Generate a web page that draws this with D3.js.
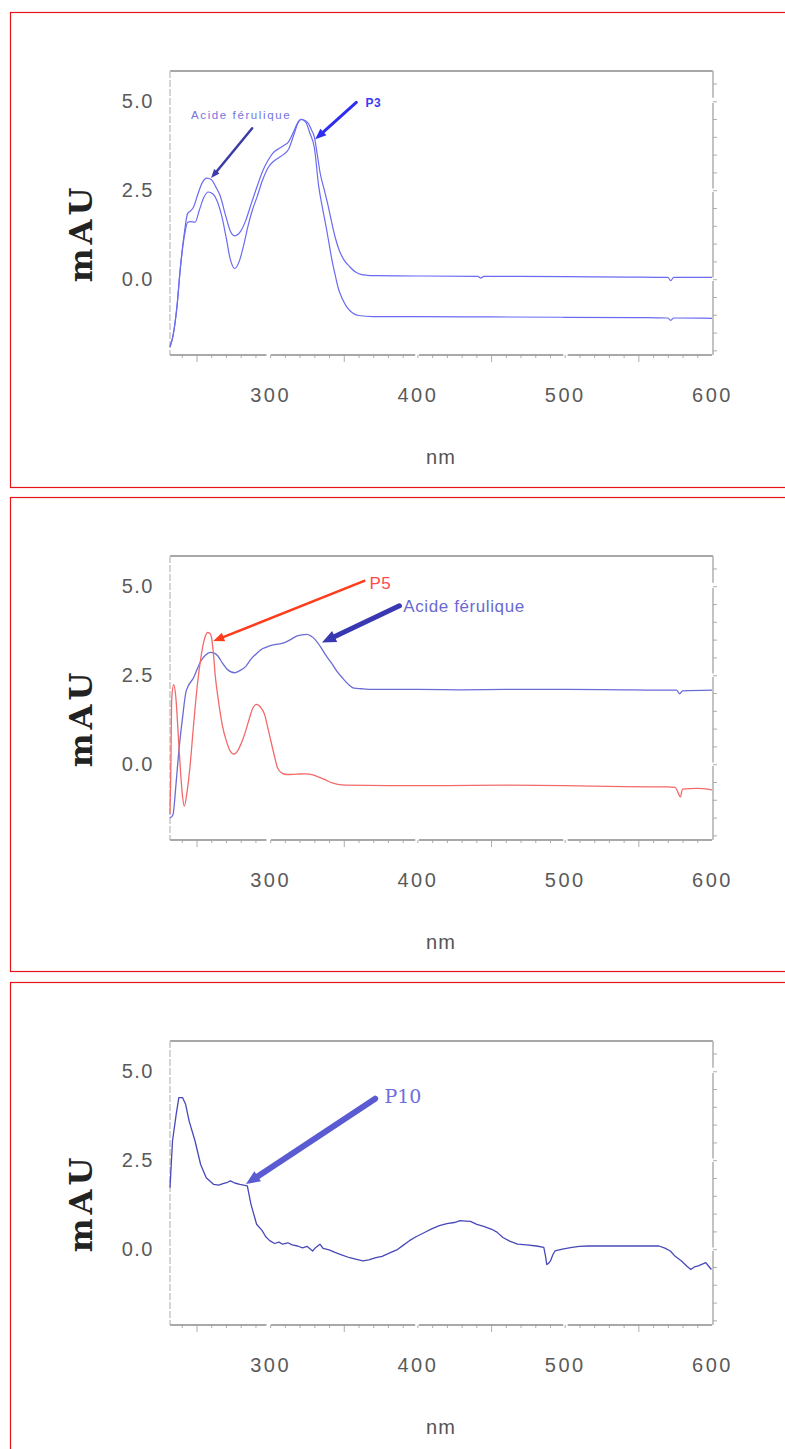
<!DOCTYPE html>
<html><head><meta charset="utf-8">
<script src="https://cdn.jsdelivr.net/npm/d3@7"></script>
<style>
html,body{margin:0;padding:0;background:#fff;}
svg{display:block;}
</style></head>
<body>
<svg id="chart" width="785" height="1449"></svg>
<script>
// ---------------- DATA ----------------
const xTickLabels = [300, 400, 500, 600];
const yTickLabels = [0, 2.5, 5];
const xDomain = [232, 600];
const yDomain = [-2.13, 5.85];

// Panel 1 : Acide férulique (upper) & P3 (lower)
const p1Acide = [[232,-1.9],[234,-1.6],[236.7,-0.78],[239,0.3],[241.7,1.29],[244,1.85],[246,1.92],[248,2.03],[251,2.4],[254,2.72],[257,2.84],[260,2.8],[263,2.6],[266,2.35],[270,1.75],[273,1.35],[276,1.22],[280,1.35],[283.5,1.66],[287,2.1],[291,2.59],[295,3.05],[298.7,3.35],[302,3.55],[306,3.67],[309,3.75],[312.5,3.86],[316,4.15],[319,4.42],[321,4.49],[324,4.45],[326,4.37],[328,4.2],[330,4.0],[332,3.5],[334,2.97],[336.5,2.55],[339,2.13],[341.5,1.65],[344,1.2],[347,0.8],[350,0.55],[354,0.35],[358,0.2],[362,0.13],[366,0.11],[372,0.1],[400,0.09],[441,0.08],[443,0.03],[445,0.08],[500,0.07],[545,0.06],[570,0.05],[572,-0.04],[574,0.05],[600,0.05]];
const p1P3 = [[232,-1.9],[234,-1.6],[236.7,-0.78],[239,0.3],[241.7,1.2],[244,1.6],[246,1.62],[249,1.6],[252,1.95],[255,2.3],[258,2.45],[261,2.4],[264,2.2],[267,1.8],[270,1.2],[273,0.55],[276,0.3],[279,0.5],[282,0.95],[285,1.5],[288,1.95],[291,2.3],[295,2.8],[299,3.16],[302,3.3],[306,3.42],[309,3.5],[312.5,3.65],[316,4.05],[319,4.4],[321,4.49],[324,4.42],[327,4.1],[330,3.7],[333,2.6],[336,1.9],[338,1.47],[340,1.0],[342,0.53],[344,0.15],[346,-0.22],[349,-0.55],[352,-0.78],[356,-0.95],[360,-1.02],[370,-1.05],[400,-1.05],[450,-1.06],[500,-1.07],[550,-1.08],[570,-1.09],[572,-1.16],[574,-1.09],[600,-1.1]];

// Panel 2 : Acide férulique (blue) & P5 (red)
const p2Acide = [[232,-1.51],[234,-1.42],[236,-0.6],[238,0.37],[240.5,1.3],[243,2.06],[248,2.43],[253,2.9],[256,3.06],[259.4,3.14],[262,3.12],[264.5,3.04],[267.5,2.85],[270.8,2.67],[275.9,2.57],[279,2.62],[283.5,2.75],[287,2.95],[291,3.12],[295,3.25],[298.7,3.31],[303,3.36],[308.7,3.4],[313.8,3.5],[318,3.6],[322.7,3.64],[325,3.65],[327.7,3.6],[331,3.48],[334,3.31],[338,3.05],[341.7,2.84],[345.5,2.6],[349.2,2.42],[353,2.25],[357,2.14],[362,2.12],[370,2.1],[400,2.1],[430,2.09],[460,2.1],[500,2.1],[540,2.09],[560,2.08],[576,2.08],[578,1.98],[580,2.06],[600,2.08]];
const p2P5 = [[232,-1.4],[232.5,-0.3],[233.2,1.86],[234.5,2.24],[236,1.86],[237.5,0.9],[239.2,-0.24],[240.5,-0.9],[241.7,-1.18],[243.5,-0.8],[245.5,-0.1],[248,1.1],[250.6,2.24],[253,3.0],[255.1,3.47],[257.6,3.7],[259,3.68],[260.2,3.56],[261.5,3.1],[262.7,2.5],[265,1.75],[267.5,1.1],[270.5,0.62],[273,0.36],[275.4,0.28],[278,0.38],[281,0.65],[283.5,0.95],[286,1.3],[288.5,1.6],[291,1.68],[293.5,1.6],[296.2,1.4],[298,1.1],[300,0.74],[302.5,0.3],[305,-0.1],[308,-0.25],[311.5,-0.29],[318,-0.28],[324,-0.27],[329,-0.3],[334,-0.38],[338,-0.45],[341.7,-0.52],[346,-0.57],[351.8,-0.59],[380,-0.6],[420,-0.6],[460,-0.59],[500,-0.6],[540,-0.63],[570,-0.64],[575,-0.65],[577,-0.8],[578.5,-0.92],[580,-0.7],[590,-0.68],[600,-0.72]];

// Panel 3 : P10
const p3P10 = [[232,1.73],[233.7,3.04],[236.2,3.79],[238,4.26],[240.5,4.26],[242.6,4.07],[245,3.6],[249,3.04],[252.8,2.38],[256.6,2.01],[261.7,1.82],[265,1.8],[268,1.84],[271,1.88],[273,1.92],[276,1.86],[279.4,1.82],[284.5,1.78],[287,1.26],[290.8,0.7],[294.6,0.52],[297,0.35],[299.7,0.24],[303,0.16],[306,0.2],[308.5,0.14],[312,0.18],[315,0.12],[318.6,0.09],[322,0.04],[325,0.08],[328.8,-0.05],[331,0.05],[333.8,0.14],[336,0.02],[340,-0.02],[344,-0.09],[348,-0.15],[354,-0.24],[358,-0.28],[363,-0.33],[367,-0.3],[371.8,-0.24],[376,-0.2],[382,-0.09],[386,-0.02],[390,0.1],[394.6,0.24],[399,0.35],[404.8,0.47],[410,0.58],[414.9,0.66],[420,0.72],[425,0.75],[429,0.8],[432.7,0.79],[436,0.78],[440.3,0.7],[445,0.64],[450.4,0.56],[454,0.48],[458,0.33],[463,0.22],[468,0.14],[474,0.12],[480.8,0.09],[485.8,0.05],[487,-0.2],[487.8,-0.43],[489,-0.4],[490.3,-0.33],[492,-0.15],[493.4,-0.05],[498.4,0.0],[505,0.05],[510,0.08],[516,0.09],[564,0.09],[568,0.03],[571.7,-0.05],[575,-0.2],[579.3,-0.33],[583,-0.48],[585.6,-0.57],[588,-0.5],[590.7,-0.47],[595.8,-0.38],[599.6,-0.57]];

// Annotations
const p1Labels = [
  {text:"Acide férulique", nm:246.3, val:4.49, from:[287.8,4.24], to:[259.9,2.84]},
  {text:"P3", nm:364.7, val:4.83, from:[358.5,4.97], to:[330.6,3.93]}
];
const p2Labels = [
  {text:"P5", nm:367.4, val:4.93, from:[363.9,5.15], to:[261.4,3.46]},
  {text:"Acide férulique", nm:390.4, val:4.28, from:[387.8,4.45], to:[335.2,3.42]}
];
const p3Labels = [
  {text:"P10", nm:377.6, val:4.1, from:[371.3,4.23], to:[283.6,1.83]}
];

// ---------------- DRAW ----------------
const svg = d3.select("#chart");
const x = d3.scaleLinear().domain(xDomain).range([170, 712]);

function drawArrow(g, x1, y1, x2, y2, color, w, headL, headW) {
  const dx = x2 - x1, dy = y2 - y1, len = Math.hypot(dx, dy);
  const ux = dx / len, uy = dy / len;
  const bx = x2 - ux * headL, by = y2 - uy * headL;
  g.append("line").attr("x1", x1).attr("y1", y1).attr("x2", bx + ux*1).attr("y2", by + uy*1)
    .attr("stroke", color).attr("stroke-width", w).attr("stroke-linecap", "round");
  g.append("path")
    .attr("d", `M${x2},${y2}L${bx - uy*headW},${by + ux*headW}L${bx + uy*headW},${by - ux*headW}Z`)
    .attr("fill", color);
}

function panel(off, frameH, series, labels, labelStyles, arrowStyles) {
  svg.append("rect").attr("x", 10.5).attr("y", 12.5 + off).attr("width", 800).attr("height", frameH)
    .attr("fill", "none").attr("stroke", "#e5141b").attr("stroke-width", 1.2);

  const y = d3.scaleLinear().domain(yDomain).range([355 + off, 71 + off]);
  const g = svg.append("g");
  const top = 71 + off, bot = 355 + off, L = 170, R = 712;

  g.append("line").attr("x1", L).attr("x2", R + 1).attr("y1", top).attr("y2", top)
    .attr("stroke", "#8a8a8a").attr("stroke-width", 1.6);
  g.append("line").attr("x1", L).attr("x2", L).attr("y1", top).attr("y2", bot)
    .attr("stroke", "#c8c8c8").attr("stroke-width", 1.5).attr("stroke-dasharray", "7,2");
  const rightSegs = [[5.85, 5.1], [4.95, 2.55], [2.45, 0.05], [-0.05, -2.13]];
  rightSegs.forEach(s => g.append("line").attr("x1", R + 1).attr("x2", R + 1)
    .attr("y1", y(s[0])).attr("y2", y(s[1])).attr("stroke", "#bdbdbd").attr("stroke-width", 1.8));
  const rAxis = d3.axisRight(y).tickValues(d3.range(-2, 5.6, 0.5)).tickSize(4).tickFormat("");
  const ra = g.append("g").attr("transform", `translate(${R + 1},0)`).call(rAxis);
  ra.select(".domain").remove();
  ra.selectAll("line").attr("stroke", "#999").attr("stroke-width", 0.8);

  const botSegs = [[232, 297.5], [300.5, 398.5], [401, 499], [502, 600]];
  botSegs.forEach(s => g.append("line").attr("x1", x(s[0])).attr("x2", x(s[1]))
    .attr("y1", bot).attr("y2", bot).attr("stroke", "#8c8c8c").attr("stroke-width", 1.6));
  const minor = d3.axisBottom(x).tickValues(d3.range(240, 600, 10)).tickSize(3).tickFormat("");
  const mi = g.append("g").attr("transform", `translate(0,${bot})`).call(minor);
  mi.select(".domain").remove();
  mi.selectAll("line").attr("stroke", "#999").attr("stroke-width", 0.8)
    .attr("y2", d => (d % 50 === 0 && d % 100 !== 0) ? 7 : 3);

  const xa = d3.axisBottom(x).tickValues(xTickLabels).tickSize(0).tickPadding(33).tickFormat(d3.format("d"));
  const xg = g.append("g").attr("transform", `translate(0,${bot})`).call(xa);
  xg.select(".domain").remove();
  xg.selectAll("text").attr("font-family", "Liberation Sans, Arial, sans-serif")
    .attr("font-size", 20).attr("fill", "#5a5a5a").attr("letter-spacing", 2.5);

  const ya = d3.axisLeft(y).tickValues(yTickLabels).tickSize(0).tickPadding(16).tickFormat(d3.format(".1f"));
  const yg = g.append("g").attr("transform", `translate(${L},0)`).call(ya);
  yg.select(".domain").remove();
  yg.selectAll("text").attr("font-family", "Liberation Sans, Arial, sans-serif")
    .attr("font-size", 20).attr("fill", "#5a5a5a").attr("letter-spacing", 1.5);

  g.append("text").attr("x", 441).attr("y", 464 + off).attr("text-anchor", "middle")
    .attr("font-family", "Liberation Sans, Arial, sans-serif").attr("font-size", 20)
    .attr("fill", "#555").attr("letter-spacing", 1).text("nm");
  g.append("text").attr("transform", `translate(92,${233 + off}) rotate(-90)`).attr("text-anchor", "middle")
    .attr("font-family", "DejaVu Serif, serif").attr("font-weight", "bold")
    .attr("font-size", 32).attr("fill", "#222").attr("letter-spacing", 4).text("mAU");

  series.forEach(s => {
    const line = d3.line().x(d => x(d[0])).y(d => y(d[1])).curve(s.curve);
    g.append("path").datum(s.data).attr("d", line).attr("fill", "none")
      .attr("stroke", s.color).attr("stroke-width", s.width).attr("stroke-linejoin", "round");
  });

  labels.forEach((a, i) => {
    const st = arrowStyles[i];
    drawArrow(g, x(a.from[0]), y(a.from[1]), x(a.to[0]), y(a.to[1]), st.color, st.w, st.hl, st.hw);
    const ls = labelStyles[i];
    g.append("text").attr("x", x(a.nm)).attr("y", y(a.val))
      .attr("font-family", ls.family).attr("font-size", ls.size).attr("font-weight", ls.weight || "normal")
      .attr("fill", ls.color).attr("letter-spacing", ls.ls || 0).text(a.text);
  });
}

panel(0, 475,
  [{data: p1Acide, color: "#6a6af2", width: 1.2, curve: d3.curveMonotoneX},
   {data: p1P3, color: "#6a6af2", width: 1.2, curve: d3.curveMonotoneX}],
  p1Labels,
  [{family: "Liberation Sans, Arial, sans-serif", size: 11.5, color: "#7474dc", ls: 1.6},
   {family: "Liberation Sans, Arial, sans-serif", size: 12, color: "#3b3bf0", weight: "bold", ls: 0.5}],
  [{color: "#3c3ca8", w: 2.5, hl: 9, hw: 3.5},
   {color: "#2e2ef2", w: 3, hl: 11, hw: 4.5}]);

panel(485, 474,
  [{data: p2Acide, color: "#6b6bd6", width: 1.3, curve: d3.curveMonotoneX},
   {data: p2P5, color: "#f26a6a", width: 1.3, curve: d3.curveMonotoneX}],
  p2Labels,
  [{family: "Liberation Sans, Arial, sans-serif", size: 17, color: "#ff4a4a", ls: 0.5},
   {family: "Liberation Sans, Arial, sans-serif", size: 17, color: "#6a6ad2", ls: 0.6}],
  [{color: "#ff3c1c", w: 2.5, hl: 11, hw: 4.5},
   {color: "#3838b0", w: 5, hl: 14, hw: 6}]);

panel(970, 500,
  [{data: p3P10, color: "#4848b8", width: 1.3, curve: d3.curveLinear}],
  p3Labels,
  [{family: "DejaVu Serif, serif", size: 19, color: "#6e6ee0", ls: 0}],
  [{color: "#5a5ad2", w: 6, hl: 14, hw: 6}]);
</script>
</body></html>
